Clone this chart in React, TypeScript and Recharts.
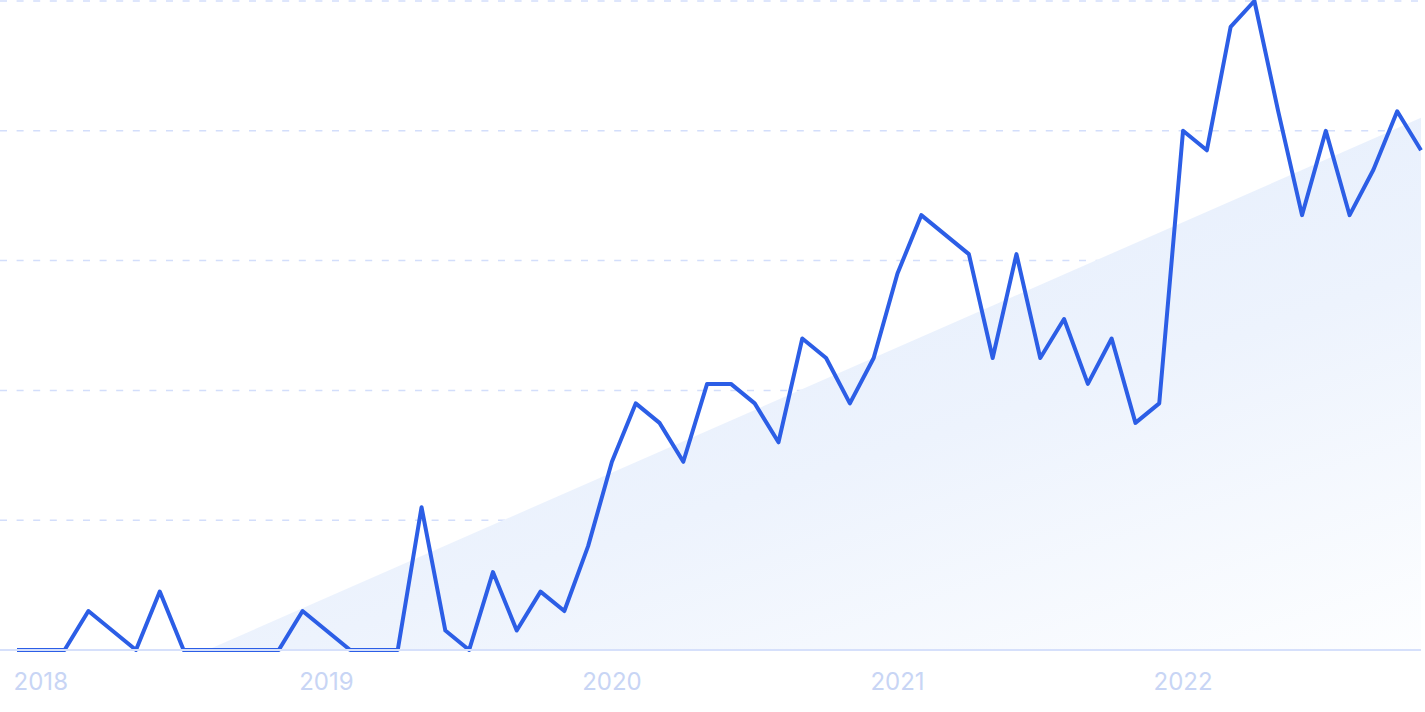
import React from "react";
import { ComposedChart, Line, Area, XAxis, YAxis, CartesianGrid } from "recharts";

const months = [
  "2017-12",
  "2018-01", "2018-02", "2018-03", "2018-04", "2018-05", "2018-06",
  "2018-07", "2018-08", "2018-09", "2018-10", "2018-11", "2018-12",
  "2019-01", "2019-02", "2019-03", "2019-04", "2019-05", "2019-06",
  "2019-07", "2019-08", "2019-09", "2019-10", "2019-11", "2019-12",
  "2020-01", "2020-02", "2020-03", "2020-04", "2020-05", "2020-06",
  "2020-07", "2020-08", "2020-09", "2020-10", "2020-11", "2020-12",
  "2021-01", "2021-02", "2021-03", "2021-04", "2021-05", "2021-06",
  "2021-07", "2021-08", "2021-09", "2021-10", "2021-11", "2021-12",
  "2022-01", "2022-02", "2022-03", "2022-04", "2022-05", "2022-06",
  "2022-07", "2022-08", "2022-09", "2022-10", "2022-11",
];

const values = [
  0,
  0, 0, 6, 3, 0, 9,
  0, 0, 0, 0, 0, 6,
  3, 0, 0, 0, 22, 3,
  0, 12, 3, 9, 6, 16,
  29, 38, 35, 29, 41, 41,
  38, 32, 48, 45, 38, 45,
  58, 67, 64, 61, 45, 61,
  45, 51, 41, 48, 35, 38,
  80, 77, 96, 100, 83, 67,
  80, 67, 74, 83, 77,
];

// trend band (start and end of the shaded trend), month index -> value
const trendMonths = [8, 59];
const trendValues = [0, 82];

const yearTickIndices = [1, 13, 25, 37, 49];
const yearTickLabels = ["2018", "2019", "2020", "2021", "2022"];

const yTicks = [0, 20, 40, 60, 80, 100];

const data = months.map((m, i) => ({ x: i, month: m, value: values[i] }));
const trendData = trendMonths.map((x, i) => ({ x, trend: trendValues[i] }));

export default function App() {
  return (
    <div style={{ position: "absolute", left: 0, top: 0, width: 1425, height: 712, background: "#fff" }}>
      <ComposedChart
        width={1425}
        height={712}
        data={data}
        margin={{ top: 1, right: 4, left: 0, bottom: 0 }}
      >
        <defs>
          <linearGradient id="trendFill" x1="0.25" y1="0" x2="1" y2="1">
            <stop offset="0%" stopColor="#e2ecfc" />
            <stop offset="55%" stopColor="#edf3fd" />
            <stop offset="100%" stopColor="#fdfeff" />
          </linearGradient>
        </defs>
        <CartesianGrid
          vertical={false}
          stroke="#d3defb"
          strokeDasharray="7 9.6"
          strokeWidth={1.5}
        />
        <XAxis
          dataKey="x"
          type="number"
          domain={[0, 59]}
          ticks={yearTickIndices}
          tickFormatter={(v: number) => yearTickLabels[yearTickIndices.indexOf(v)] ?? ""}
          padding={{ left: 17, right: 0 }}
          height={62}
          axisLine={{ stroke: "#d6e0fb", strokeWidth: 2 }}
          tickLine={false}
          tickSize={0}
          tickMargin={23}
          tick={{ fill: "#c8d5f5", fontSize: 24, fontFamily: "Inter, 'Noto Sans', sans-serif" }}
        />
        <YAxis hide domain={[0, 100]} ticks={yTicks} />
        <Area
          data={trendData}
          dataKey="trend"
          type="linear"
          stroke="none"
          fill="url(#trendFill)"
          fillOpacity={1}
          isAnimationActive={false}
          dot={false}
          activeDot={false}
        />
        <Line
          dataKey="value"
          type="linear"
          stroke="#2c5ee6"
          strokeWidth={4}
          dot={false}
          activeDot={false}
          isAnimationActive={false}
          strokeLinejoin="round"
        />
      </ComposedChart>
    </div>
  );
}
